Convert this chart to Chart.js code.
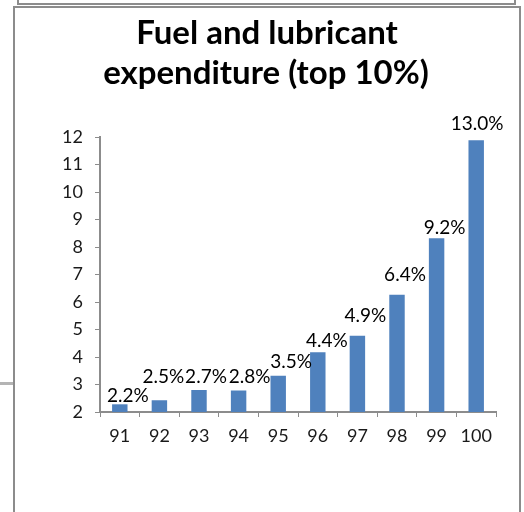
<!DOCTYPE html>
<html>
<head>
<meta charset="utf-8">
<script src="https://cdn.jsdelivr.net/npm/chart.js@4"></script>
<style>
  html, body { margin: 0; padding: 0; background: #fff; }
  body { width: 524px; height: 512px; position: relative; overflow: hidden; }
  .frame { position: absolute; box-sizing: border-box; }
  #topBox { left: 17px; top: -10px; width: 499px; height: 15px; border: 2px solid #8c8c8c; }
  #mainBox { left: 13px; top: 6px; width: 508px; height: 520px; border: 2px solid #8c8c8c; border-bottom: none; }
  #leftLine { left: 0; top: 382px; width: 13px; height: 3px; background: #b4b4b4; }
  #wrap { position: absolute; left: 0; top: 0; width: 524px; height: 512px; }
</style>
</head>
<body>
<div class="frame" id="topBox"></div>
<div class="frame" id="leftLine"></div>
<div class="frame" id="mainBox"></div>
<div id="wrap"><canvas id="fuelChart" width="524" height="512"></canvas></div>
<script>
// Chart data
const percentiles = ['91', '92', '93', '94', '95', '96', '97', '98', '99', '100'];
const barValues = [2.28, 2.43, 2.8, 2.78, 3.32, 4.17, 4.77, 6.26, 8.32, 11.88];
const shareLabels = ['2.2%', '2.5%', '2.7%', '2.8%', '3.5%', '4.4%', '4.9%', '6.4%', '9.2%', '13.0%'];
const yTicks = [2, 3, 4, 5, 6, 7, 8, 9, 10, 11, 12];

// label placement relative to bar top (as placed in the original)
const labelDx = [8, 4, 7, 11, 13, 9, 8, 8, 8, 1];
const labelDy = [-8, -23, -13, -14, -14, -11, -20, -20, -10, -16];

const FONT = 'Lato, "Open Sans", sans-serif';

// Draws title and the value labels
const labelPlugin = {
    id: 'valueLabels',
    afterDatasetsDraw(chart) {
        const ctx = chart.ctx;
        const meta = chart.getDatasetMeta(0);
        ctx.save();
        ctx.fillStyle = '#000';
        ctx.textAlign = 'center';
        ctx.textBaseline = 'middle';
        ctx.font = '19px ' + FONT;
        meta.data.forEach((bar, i) => {
            ctx.fillText(shareLabels[i], bar.x + labelDx[i], bar.y + labelDy[i]);
        });
        ctx.font = 'bold 33px ' + FONT;
        ctx.fillText('Fuel and lubricant', 267, 33);
        ctx.fillText('expenditure (top 10%)', 266, 73);
        ctx.restore();
    }
};

function renderChart() {
    const ctx = document.getElementById('fuelChart').getContext('2d');
    new Chart(ctx, {
        type: 'bar',
        data: {
            labels: percentiles,
            datasets: [{
                data: barValues,
                backgroundColor: '#4f81bd',
                borderWidth: 0,
                categoryPercentage: 1,
                barPercentage: 0.39
            }]
        },
        options: {
            responsive: false,
            animation: false,
            layout: { padding: { left: 0, right: 28, top: 137, bottom: 0 } },
            plugins: {
                legend: { display: false },
                tooltip: { enabled: false }
            },
            scales: {
                x: {
                    grid: { display: true, drawOnChartArea: false, tickLength: 5, color: '#8c8c8c', offset: true },
                    border: { color: '#8c8c8c', width: 2 },
                    ticks: { color: '#1a1a1a', font: { family: FONT, size: 18 }, padding: 8 },
                    afterFit(scale) { scale.height = 100; }
                },
                y: {
                    min: 2,
                    max: 12,
                    afterBuildTicks(scale) { scale.ticks = yTicks.map(v => ({ value: v })); },
                    grid: { display: true, drawOnChartArea: false, tickLength: 5, color: '#8c8c8c' },
                    border: { color: '#8c8c8c', width: 2 },
                    ticks: { color: '#1a1a1a', font: { family: FONT, size: 18 }, padding: 12 },
                    afterFit(scale) { scale.width = 100; }
                }
            }
        },
        plugins: [labelPlugin]
    });
}

renderChart();
</script>
</body>
</html>
